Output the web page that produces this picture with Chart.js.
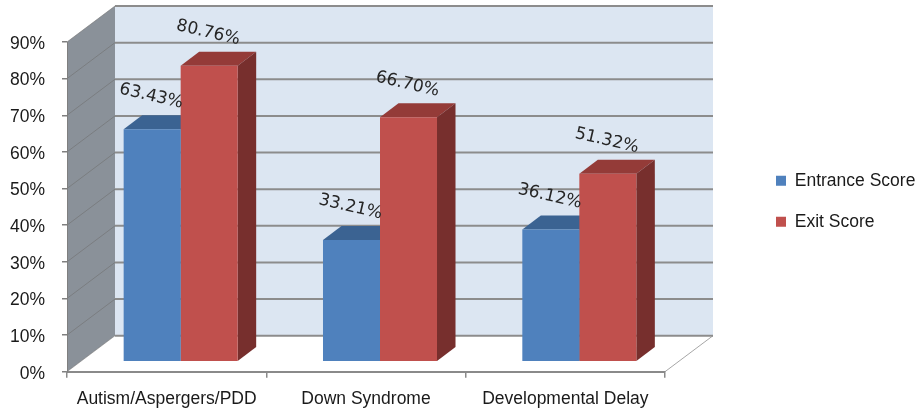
<!DOCTYPE html>
<html>
<head>
<meta charset="utf-8">
<script src="https://cdn.jsdelivr.net/npm/chart.js@4.4.1/dist/chart.umd.min.js"></script>
<style>
  html, body { margin: 0; padding: 0; background: #ffffff; }
  canvas { display: block; }
</style>
</head>
<body>
<canvas id="chart" width="919" height="417"></canvas>
<script>
// Program groups on the category axis
const categories = ['Autism/Aspergers/PDD', 'Down Syndrome', 'Developmental Delay'];
// Scores in percent
const entranceScores = [63.43, 33.21, 36.12];
const exitScores = [80.76, 66.70, 51.32];
const seriesNames = ['Entrance Score', 'Exit Score'];
// Value axis
const axisMin = 0;
const axisMax = 90;
const axisStep = 10;

const FONT = "'Liberation Sans', Arial, sans-serif";

// Projection of the box: depth of the walls, where the bars stand and how deep they are
const WALL_DX = 48, WALL_DY = -36;
const BAR_DX = 14, BAR_DY = -10;
const DEPTH_DX = 18.5, DEPTH_DY = -14;

// Shading of each series: front (dataset colour), top, side
const shades = [
  { top: '#3b6392', side: '#2f5078' },
  { top: '#943b38', side: '#772f2d' }
];

// Legend placement on the right side
const LEGEND_W = 254;
const LEGEND_BOX_X = 776;
const LEGEND_TOP = 148.5;

const box3d = {
  id: 'box3d',
  beforeLayout(chart) {
    const lg = chart.legend;
    if (lg && !lg._fixedWidth) {
      const fit = lg.fit;
      lg.fit = function () { fit.call(this); this.width = LEGEND_W; };
      lg._fixedWidth = true;
    }
  },
  afterLayout(chart) {
    const lg = chart.legend;
    if (lg) {
      lg.left = LEGEND_BOX_X - lg.options.labels.padding;
      lg.top = LEGEND_TOP;
    }
  },
  beforeDraw(chart) {
    const { ctx, chartArea } = chart;
    const ys = chart.scales.y;
    const L = chartArea.left, R = chartArea.right;
    const y0 = ys.getPixelForValue(axisMin);
    const yT = ys.getPixelForValue(axisMax);

    ctx.save();
    // side wall
    ctx.beginPath();
    ctx.moveTo(L, y0);
    ctx.lineTo(L + WALL_DX, y0 + WALL_DY);
    ctx.lineTo(L + WALL_DX, yT + WALL_DY);
    ctx.lineTo(L, yT);
    ctx.closePath();
    ctx.fillStyle = '#8a9199';
    ctx.fill();

    // back wall
    ctx.fillStyle = '#dce6f2';
    ctx.fillRect(L + WALL_DX, yT + WALL_DY, R - L, y0 - yT);

    // floor
    ctx.beginPath();
    ctx.moveTo(L, y0);
    ctx.lineTo(R, y0);
    ctx.lineTo(R + WALL_DX, y0 + WALL_DY);
    ctx.lineTo(L + WALL_DX, y0 + WALL_DY);
    ctx.closePath();
    ctx.fillStyle = '#ffffff';
    ctx.fill();
    ctx.strokeStyle = '#a6a6a6';
    ctx.lineWidth = 1;
    ctx.beginPath();
    ctx.moveTo(R, y0);
    ctx.lineTo(R + WALL_DX, y0 + WALL_DY);
    ctx.stroke();

    // gridlines on the side wall and on the back wall
    ys.ticks.forEach(t => {
      const y = ys.getPixelForValue(t.value);
      ctx.strokeStyle = 'rgba(112,112,112,0.6)';
      ctx.lineWidth = 1;
      ctx.beginPath();
      ctx.moveTo(L, y);
      ctx.lineTo(L + WALL_DX, y + WALL_DY);
      ctx.stroke();
      ctx.strokeStyle = '#8c8c8c';
      ctx.lineWidth = 2;
      ctx.beginPath();
      ctx.moveTo(L + WALL_DX, y + WALL_DY);
      ctx.lineTo(R + WALL_DX, y + WALL_DY);
      ctx.stroke();
    });
    ctx.restore();
  },
  beforeDatasetsDraw(chart) {
    const { ctx } = chart;
    ctx.save();
    ctx.translate(BAR_DX, BAR_DY);
    chart.data.datasets.forEach((ds, di) => {
      const meta = chart.getDatasetMeta(di);
      meta.data.forEach(bar => {
        const { x, y, base, width } = bar.getProps(['x', 'y', 'base', 'width'], true);
        const l = x - width / 2, r = x + width / 2;
        // top face
        ctx.beginPath();
        ctx.moveTo(l, y);
        ctx.lineTo(r, y);
        ctx.lineTo(r + DEPTH_DX, y + DEPTH_DY);
        ctx.lineTo(l + DEPTH_DX, y + DEPTH_DY);
        ctx.closePath();
        ctx.fillStyle = shades[di].top;
        ctx.fill();
        // right side face
        ctx.beginPath();
        ctx.moveTo(r, y);
        ctx.lineTo(r + DEPTH_DX, y + DEPTH_DY);
        ctx.lineTo(r + DEPTH_DX, base + DEPTH_DY);
        ctx.lineTo(r, base);
        ctx.closePath();
        ctx.fillStyle = shades[di].side;
        ctx.fill();
      });
    });
  },
  afterDatasetsDraw(chart) {
    const { ctx } = chart;
    ctx.font = "17px 'DejaVu Sans', Verdana, sans-serif";
    ctx.fillStyle = '#262626';
    ctx.textAlign = 'center';
    ctx.textBaseline = 'middle';
    chart.data.datasets.forEach((ds, di) => {
      const meta = chart.getDatasetMeta(di);
      meta.data.forEach((bar, i) => {
        const { x, y } = bar.getProps(['x', 'y'], true);
        ctx.save();
        ctx.translate(x - 1, y - 33);
        ctx.rotate(13 * Math.PI / 180);
        ctx.fillText(ds.data[i].toFixed(2) + '%', 0, 0);
        ctx.restore();
      });
    });
    ctx.restore();
  }
};

new Chart(document.getElementById('chart'), {
  type: 'bar',
  data: {
    labels: categories,
    datasets: [
      { label: seriesNames[0], data: entranceScores, backgroundColor: '#4f81bd', borderWidth: 0, clip: false },
      { label: seriesNames[1], data: exitScores, backgroundColor: '#c0504d', borderWidth: 0, clip: false }
    ]
  },
  options: {
    responsive: false,
    animation: false,
    devicePixelRatio: 1,
    categoryPercentage: 0.572,
    barPercentage: 1.0,
    layout: { padding: { top: 42, left: 0, right: 0, bottom: 0 } },
    plugins: {
      legend: {
        position: 'right',
        align: 'start',
        labels: {
          boxWidth: 10,
          boxHeight: 10,
          padding: 23.5,
          color: '#1a1a1a',
          font: { family: FONT, size: 17.5 }
        }
      },
      tooltip: { enabled: false }
    },
    scales: {
      x: {
        grid: { display: true, drawOnChartArea: false, drawTicks: true, tickLength: 6, offset: true, color: '#8a8a8a', lineWidth: 1.5 },
        border: { display: true, color: '#8a8a8a', width: 2 },
        ticks: { color: '#1a1a1a', font: { family: FONT, size: 17.5 }, padding: 11, maxRotation: 0, autoSkip: false },
        afterFit(scale) { scale.height = 45.3; }
      },
      y: {
        min: axisMin,
        max: axisMax,
        ticks: {
          stepSize: axisStep,
          color: '#1a1a1a',
          font: { family: FONT, size: 17.5 },
          padding: 17,
          labelOffset: 2,
          callback: v => v + '%'
        },
        grid: { drawOnChartArea: false, drawTicks: true, tickLength: 5, color: '#7f7f7f', lineWidth: 1.5 },
        border: { display: true, color: '#7f7f7f', width: 1 },
        afterFit(scale) { scale.width = 67; }
      }
    }
  },
  plugins: [box3d]
});
</script>
</body>
</html>
